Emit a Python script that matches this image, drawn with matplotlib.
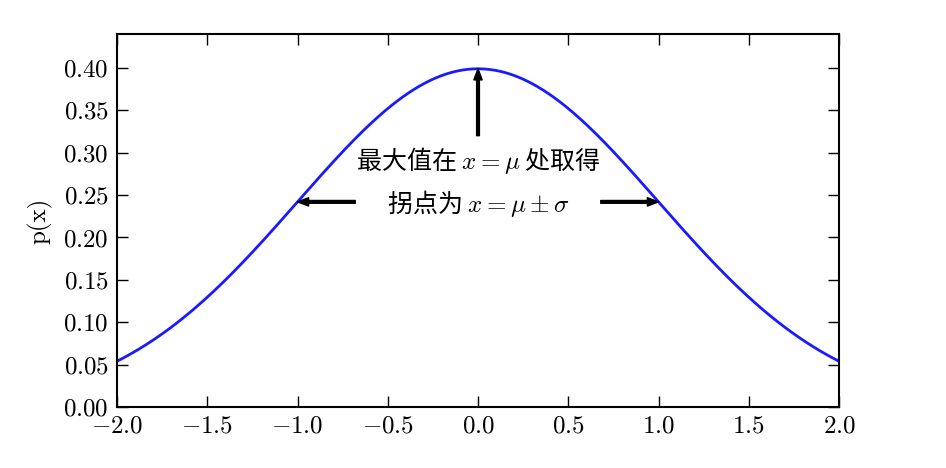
import numpy as np
import matplotlib
matplotlib.use('Agg')
import matplotlib.pyplot as plt

# data
mu, sigma = 0.0, 1.0
x_range = (-2.0, 2.0)
y_range = (0.0, 0.44)
x_ticks = [-2.0, -1.5, -1.0, -0.5, 0.0, 0.5, 1.0, 1.5, 2.0]
y_ticks = [0.00, 0.05, 0.10, 0.15, 0.20, 0.25, 0.30, 0.35, 0.40]
peak_text = '最大值在 $x=\\mu$ 处取得'
infl_text = '拐点为 $x=\\mu\\pm\\sigma$'

plt.rcParams['font.family'] = 'cmr10'
plt.rcParams['mathtext.fontset'] = 'cm'
plt.rcParams['axes.formatter.use_mathtext'] = True

x = np.linspace(x_range[0], x_range[1], 400)
y = np.exp(-(x - mu) ** 2 / (2 * sigma ** 2)) / (sigma * np.sqrt(2 * np.pi))
p_peak = 1 / (sigma * np.sqrt(2 * np.pi))
p_infl = p_peak * np.exp(-0.5)

fig = plt.figure(figsize=(9.46, 4.68), dpi=100)
ax = fig.add_axes([0.1237, 0.1303, 0.7632, 0.7971])
ax.plot(x, y, color='#1a1aff', lw=2)

ax.set_xlim(*x_range)
ax.set_ylim(*y_range)
ax.set_xticks(x_ticks)
ax.set_yticks(y_ticks)
ax.set_yticklabels([f'${v:.2f}$' for v in y_ticks])
ax.set_xticklabels([f'${v:.1f}$' for v in x_ticks])
ax.tick_params(direction='in', length=8, width=1, top=True, right=True, labelsize=18, pad=6)
for s in ax.spines.values():
    s.set_linewidth(1.5)
ax.set_ylabel('p(x)', fontsize=18, labelpad=8)

cjk = ['Noto Sans CJK SC', 'DejaVu Sans']
arrow = dict(facecolor='black', edgecolor='black', width=2, headwidth=6, headlength=8, shrink=0)
ax.annotate('', xy=(mu, p_peak), xytext=(mu, 0.32), arrowprops=arrow)
ax.text(mu, 0.291, peak_text, ha='center', va='center', fontsize=18, family=cjk)
ax.annotate('', xy=(mu - sigma, p_infl), xytext=(-0.68, p_infl), arrowprops=arrow)
ax.annotate('', xy=(mu + sigma, p_infl), xytext=(0.68, p_infl), arrowprops=arrow)
ax.text(mu, 0.240, infl_text, ha='center', va='center', fontsize=18, family=cjk)

fig.savefig('out.png', dpi=100)
